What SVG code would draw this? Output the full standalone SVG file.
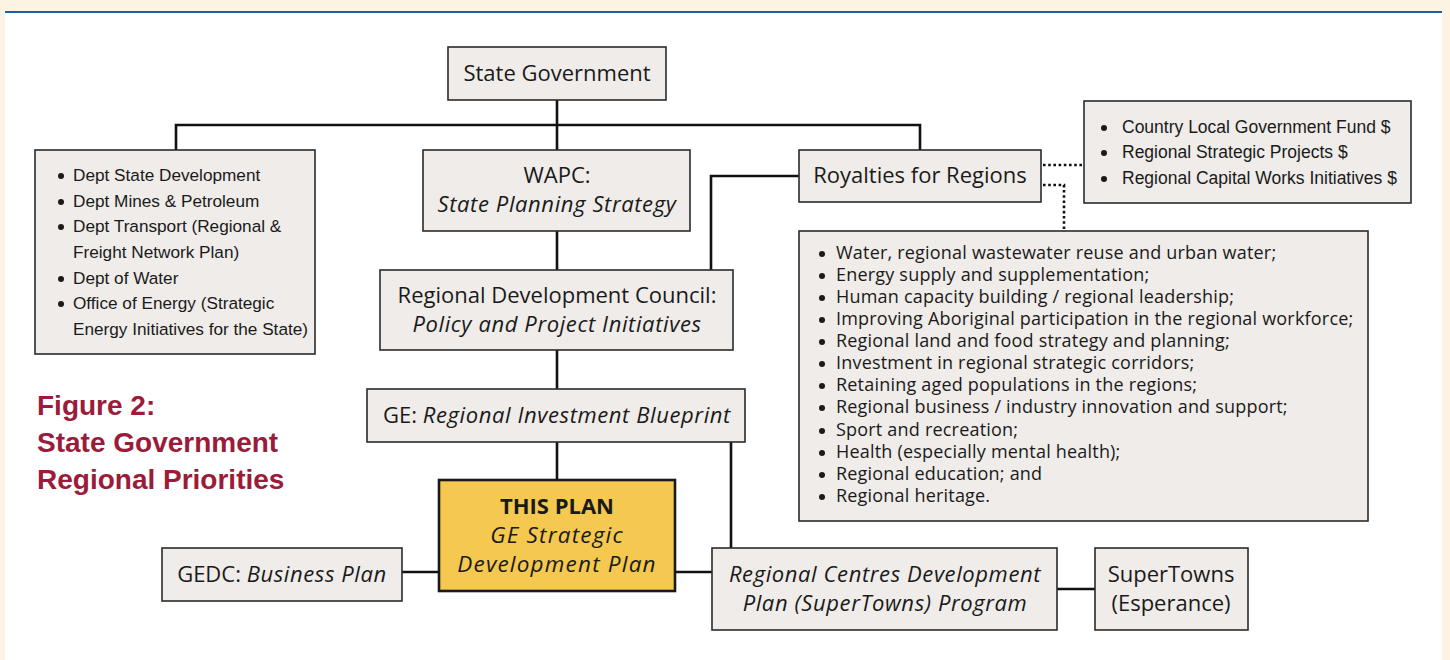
<svg xmlns="http://www.w3.org/2000/svg" width="1450" height="660" viewBox="0 0 1450 660">
<style>
.box{fill:#EFECE9;stroke:#2b2b2b;stroke-width:1.6}
.plan{fill:#F5C84F;stroke:#1a1a1a;stroke-width:2.6}
.t{font-family:"Open Sans","Noto Sans",sans-serif;font-size:22px;fill:#1a1a1a;text-anchor:middle}
.i{font-style:italic;letter-spacing:0.6px}
.b{font-weight:bold}
.pl{font-size:22.5px;letter-spacing:1.2px}
.pb{font-size:22px}
.l{font-family:"Liberation Sans",Arial,sans-serif;font-size:17.2px;fill:#1a1a1a}
.r{font-family:"Liberation Sans",Arial,sans-serif;font-size:17.5px;fill:#1a1a1a}
.s{font-family:"Open Sans","Noto Sans",sans-serif;font-size:18px;letter-spacing:0.2px;fill:#1a1a1a}
.title{font-family:"Liberation Sans",Arial,sans-serif;font-weight:bold;font-size:28px;fill:#9B1B3A}
.c{fill:none;stroke:#111;stroke-width:2.6}
.d{fill:none;stroke:#111;stroke-width:2.6;stroke-dasharray:2.6 2.6}
.bul{fill:#1a1a1a}
</style>
<rect x="0" y="0" width="1450" height="660" fill="#FDF3E3"/>
<rect x="5" y="12" width="1437" height="648" fill="#ffffff"/>
<line x1="5" y1="12" x2="1442" y2="12" stroke="#1B5FA3" stroke-width="2"/>

<g id="connectors">
<path class="c" d="M557 100V150M176 150V125H920V150"/>
<path class="c" d="M557 231V270M557 350V389M557 442V480"/>
<path class="c" d="M799 176H711V270"/>
<path class="c" d="M731 442V548"/>
<path class="c" d="M402 572H439M675 572H712M1057 589H1095"/>
<path class="d" d="M1043 165H1084M1043 185H1064V231"/>
</g>

<g id="title">
<text class="title" x="37" y="415">Figure 2:</text>
<text class="title" x="37" y="452">State Government</text>
<text class="title" x="37" y="489">Regional Priorities</text>
</g>

<g id="state-government">
<rect class="box" x="448" y="47" width="218" height="53"/>
<text class="t" x="557" y="81">State Government</text>
</g>

<g id="depts">
<rect class="box" x="35" y="150" width="280" height="204"/>
<circle class="bul" cx="61" cy="176" r="3"/>
<circle class="bul" cx="61" cy="202" r="3"/>
<circle class="bul" cx="61" cy="227" r="3"/>
<circle class="bul" cx="61" cy="279" r="3"/>
<circle class="bul" cx="61" cy="304" r="3"/>
<text class="l" x="73" y="181">Dept State Development</text>
<text class="l" x="73" y="207">Dept Mines &amp; Petroleum</text>
<text class="l" x="73" y="232">Dept Transport (Regional &amp;</text>
<text class="l" x="73" y="258">Freight Network Plan)</text>
<text class="l" x="73" y="284">Dept of Water</text>
<text class="l" x="73" y="309">Office of Energy (Strategic</text>
<text class="l" x="73" y="335">Energy Initiatives for the State)</text>
</g>

<g id="wapc">
<rect class="box" x="423" y="150" width="267" height="81"/>
<text class="t" x="557" y="183">WAPC:</text>
<text class="t i" x="557" y="212">State Planning Strategy</text>
</g>

<g id="royalties">
<rect class="box" x="799" y="150" width="242" height="52"/>
<text class="t" x="920" y="183">Royalties for Regions</text>
</g>

<g id="funds">
<rect class="box" x="1084" y="101" width="327" height="102"/>
<circle class="bul" cx="1104" cy="128" r="3"/>
<circle class="bul" cx="1104" cy="153" r="3"/>
<circle class="bul" cx="1104" cy="179" r="3"/>
<text class="r" x="1122" y="133">Country Local Government Fund $</text>
<text class="r" x="1122" y="158">Regional Strategic Projects $</text>
<text class="r" x="1122" y="184">Regional Capital Works Initiatives $</text>
</g>

<g id="priorities">
<rect class="box" x="799" y="231" width="569" height="290"/>
<g class="bul">
<circle cx="822" cy="254" r="3"/>
<circle cx="822" cy="276" r="3"/>
<circle cx="822" cy="298" r="3"/>
<circle cx="822" cy="320" r="3"/>
<circle cx="822" cy="342" r="3"/>
<circle cx="822" cy="364" r="3"/>
<circle cx="822" cy="386" r="3"/>
<circle cx="822" cy="408" r="3"/>
<circle cx="822" cy="431" r="3"/>
<circle cx="822" cy="453" r="3"/>
<circle cx="822" cy="475" r="3"/>
<circle cx="822" cy="497" r="3"/>
</g>
<text class="s" x="836" y="259">Water, regional wastewater reuse and urban water;</text>
<text class="s" x="836" y="281">Energy supply and supplementation;</text>
<text class="s" x="836" y="303">Human capacity building / regional leadership;</text>
<text class="s" x="836" y="325">Improving Aboriginal participation in the regional workforce;</text>
<text class="s" x="836" y="347">Regional land and food strategy and planning;</text>
<text class="s" x="836" y="369">Investment in regional strategic corridors;</text>
<text class="s" x="836" y="391">Retaining aged populations in the regions;</text>
<text class="s" x="836" y="413">Regional business / industry innovation and support;</text>
<text class="s" x="836" y="436">Sport and recreation;</text>
<text class="s" x="836" y="458">Health (especially mental health);</text>
<text class="s" x="836" y="480">Regional education; and</text>
<text class="s" x="836" y="502">Regional heritage.</text>
</g>

<g id="rdc">
<rect class="box" x="380" y="270" width="353" height="80"/>
<text class="t" x="557" y="303">Regional Development Council:</text>
<text class="t i" x="557" y="332">Policy and Project Initiatives</text>
</g>

<g id="ge">
<rect class="box" x="367" y="389" width="378" height="53"/>
<text class="t" x="557" y="423">GE: <tspan class="i">Regional Investment Blueprint</tspan></text>
</g>

<g id="this-plan">
<rect class="plan" x="439" y="480" width="236" height="111"/>
<text class="t b pb" x="557" y="514">THIS PLAN</text>
<text class="t i pl" x="557" y="543">GE Strategic</text>
<text class="t i pl" x="557" y="572">Development Plan</text>
</g>

<g id="gedc">
<rect class="box" x="162" y="548" width="240" height="53"/>
<text class="t" x="282" y="582">GEDC: <tspan class="i">Business Plan</tspan></text>
</g>

<g id="rcdp">
<rect class="box" x="712" y="548" width="345" height="82"/>
<text class="t i" x="885" y="582">Regional Centres Development</text>
<text class="t i" x="885" y="611">Plan (SuperTowns) Program</text>
</g>

<g id="supertowns">
<rect class="box" x="1095" y="548" width="153" height="82"/>
<text class="t" x="1171" y="582">SuperTowns</text>
<text class="t" x="1171" y="611">(Esperance)</text>
</g>
</svg>
